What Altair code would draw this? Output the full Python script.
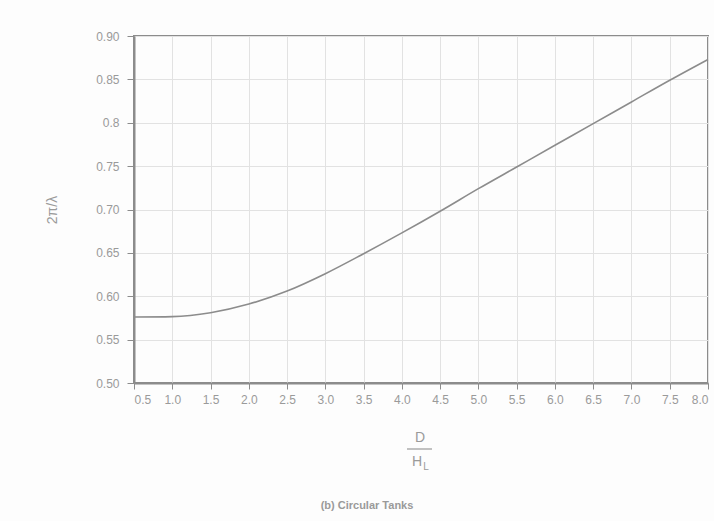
import altair as alt
import pandas as pd

ratio = [0.5, 1.0, 1.5, 2.0, 2.5, 3.0, 3.5, 4.0, 4.5, 5.0, 5.5, 6.0, 6.5, 7.0, 7.5, 8.0]
value = [0.576, 0.5765, 0.581, 0.591, 0.606, 0.626, 0.649, 0.673, 0.698, 0.724, 0.749, 0.774, 0.799, 0.824, 0.849, 0.873]
x_ticks = [0.5, 1.0, 1.5, 2.0, 2.5, 3.0, 3.5, 4.0, 4.5, 5.0, 5.5, 6.0, 6.5, 7.0, 7.5, 8.0]
y_ticks = [0.50, 0.55, 0.60, 0.65, 0.70, 0.75, 0.80, 0.85, 0.90]

df = pd.DataFrame({"ratio": ratio, "value": value})

GRAY = "#8c8c8c"
TXT = "#9a9a9a"

W, H = 574, 347

line = alt.Chart(df).mark_line(color=GRAY, strokeWidth=1.6, interpolate="monotone").encode(
    x=alt.X("ratio:Q",
            scale=alt.Scale(domain=[0.5, 8.0], nice=False, zero=False),
            axis=alt.Axis(values=x_ticks, format=".1f", title=None,
                          grid=True, gridColor="#e2e2e2", gridWidth=1,
                          domainColor=GRAY, domainWidth=2,
                          tickColor=GRAY, tickSize=6, tickWidth=1,
                          labelColor=TXT, labelFontSize=12, labelPadding=5,
                          labelFont="Liberation Sans")),
    y=alt.Y("value:Q",
            scale=alt.Scale(domain=[0.5, 0.9], nice=False, zero=False),
            axis=alt.Axis(values=y_ticks,
                          labelExpr="datum.value == 0.8 ? '0.8' : format(datum.value, '.2f')",
                          title="2π/λ", titleColor=TXT, titleFontSize=14,
                          titleFontWeight="normal", titlePadding=36,
                          titleFont="Liberation Sans",
                          grid=True, gridColor="#e2e2e2", gridWidth=1,
                          domainColor=GRAY, domainWidth=2,
                          tickColor=GRAY, tickSize=7, tickWidth=1,
                          labelColor=TXT, labelFontSize=12, labelPadding=8,
                          labelFont="Liberation Sans")),
)

lab = pd.DataFrame({"t": ["D"]})
num = alt.Chart(lab).mark_text(fontSize=14, color=TXT, font="Liberation Sans").encode(
    x=alt.value(286), y=alt.value(402), text="t:N")
bar = alt.Chart(lab).mark_rule(color=TXT, strokeWidth=1.2).encode(
    x=alt.value(273), x2=alt.value(298), y=alt.value(413))
den = alt.Chart(pd.DataFrame({"t": ["H"]})).mark_text(fontSize=14, color=TXT, font="Liberation Sans").encode(
    x=alt.value(283), y=alt.value(426), text="t:N")
sub = alt.Chart(pd.DataFrame({"t": ["L"]})).mark_text(fontSize=10, color=TXT, font="Liberation Sans").encode(
    x=alt.value(292), y=alt.value(431), text="t:N")
cap = alt.Chart(pd.DataFrame({"t": ["(b) Circular Tanks"]})).mark_text(
    fontSize=11, fontWeight="bold", color=TXT, font="Liberation Sans").encode(
    x=alt.value(233), y=alt.value(470), text="t:N")

chart = alt.layer(line, num, bar, den, sub, cap).properties(
    width=W, height=H,
    autosize=alt.AutoSizeParams(type="none"),
    padding={"left": 134, "top": 36, "right": 6, "bottom": 138},
    background="#fdfdfd",
).configure_view(stroke=GRAY, strokeWidth=2)

chart.save("out.html", embed_options={"renderer": "svg", "actions": False})
